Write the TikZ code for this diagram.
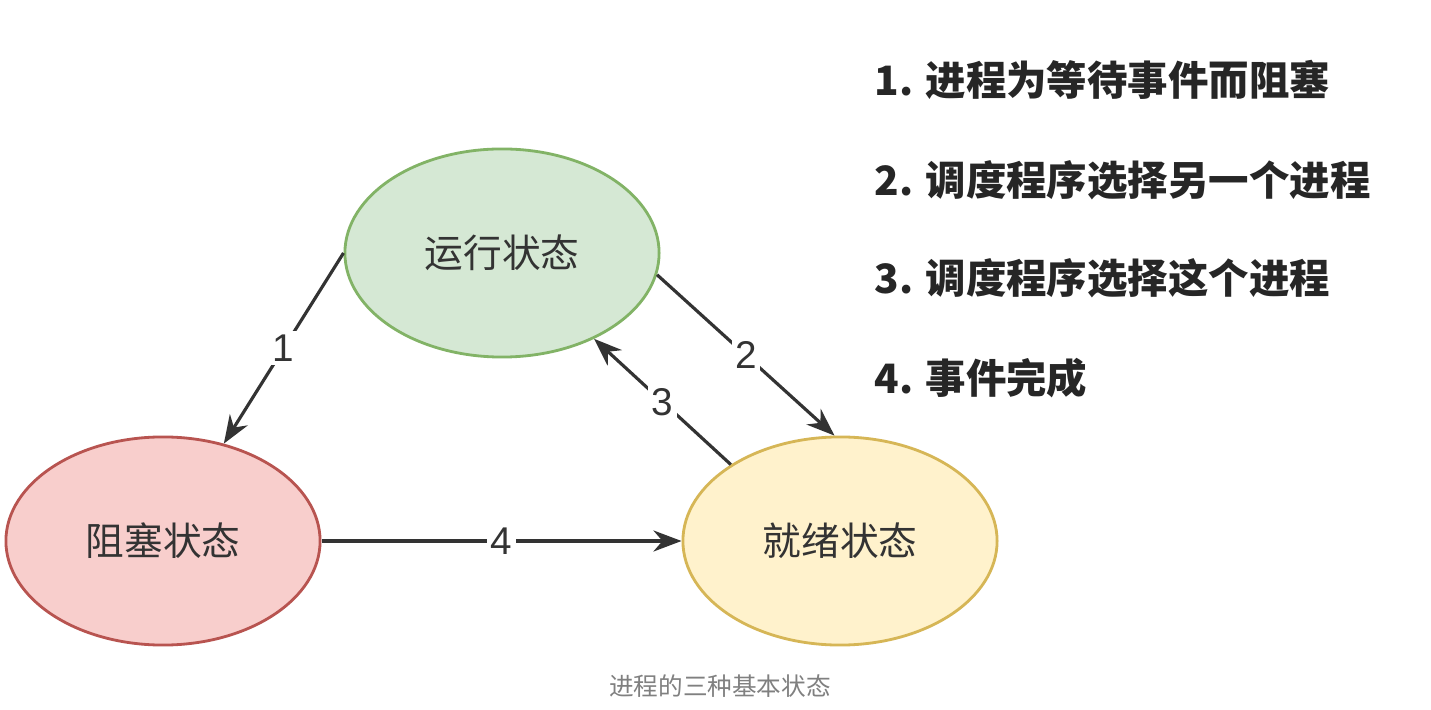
\documentclass[tikz,border=0pt]{standalone}
\usepackage{fontspec}
\setmainfont{Liberation Sans}
\newfontfamily\cjk{Noto Sans CJK SC}
\usetikzlibrary{shapes.geometric,arrows.meta}
\definecolor{runfill}{HTML}{D5E8D4}\definecolor{rundraw}{HTML}{82B366}
\definecolor{blkfill}{HTML}{F8CECC}\definecolor{blkdraw}{HTML}{B85450}
\definecolor{rdyfill}{HTML}{FFF2CC}\definecolor{rdydraw}{HTML}{D6B656}
\tikzset{
  state/.style={ellipse, minimum width=3.14cm, minimum height=2.08cm, inner sep=0pt, line width=0.8pt, font=\cjk\fontsize{11}{13}\selectfont, text=black!80},
  trans/.style={draw=black!80, line width=0.9pt, -{Stealth[length=8pt,width=6pt]}},
  num/.style={fill=white, inner sep=1pt, font=\fontsize{11}{13}\selectfont, text=black!80},
  item/.style={anchor=west, font=\cjk\bfseries\fontsize{11.5}{14}\selectfont, text=black!85}
}
\begin{document}
\begin{tikzpicture}[x=0.01cm,y=-0.01cm]
  \useasboundingbox[fill=white] (0,0) rectangle (1431,710);
  \node[state, fill=runfill, draw=rundraw] (run) at (502,253) {运行状态};
  \node[state, fill=blkfill, draw=blkdraw] (blk) at (163,541) {阻塞状态};
  \node[state, fill=rdyfill, draw=rdydraw] (rdy) at (840,541) {就绪状态};
  \draw[trans] (run.west) -- node[num] {1} (blk.58);
  \draw[trans] (run.-8) -- node[num] {2} (rdy.93);
  \draw[trans] (rdy.145) -- node[num] {3} (run.-43);
  \draw[trans] (blk.east) -- node[num] {4} (rdy.west);
  \node[item] (l1) at (862,80) {1. 进程为等待事件而阻塞};
  \node[item] (l2) at (862,180) {2. 调度程序选择另一个进程};
  \node[item] (l3) at (862,278) {3. 调度程序选择这个进程};
  \node[item] (l4) at (862,378) {4. 事件完成};
  \node[font=\cjk\fontsize{7}{8}\selectfont, text=black!50] (cap) at (720,686) {进程的三种基本状态};
\end{tikzpicture}
\end{document}
